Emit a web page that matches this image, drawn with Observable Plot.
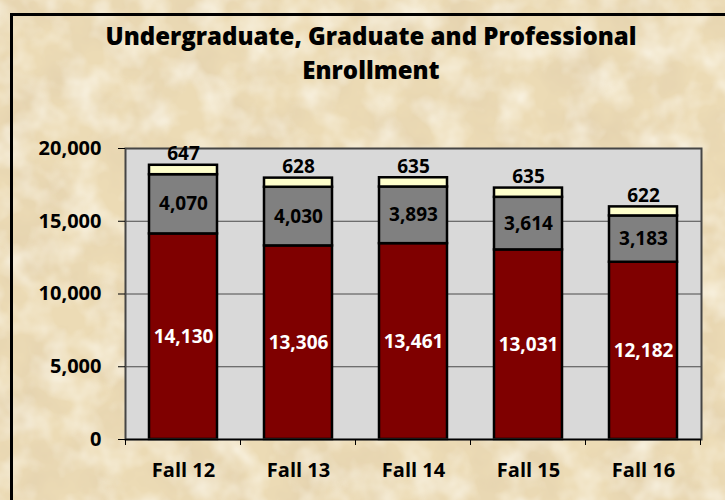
<!DOCTYPE html>
<html>
<head>
<meta charset="utf-8">
<script src="https://cdn.jsdelivr.net/npm/d3@7"></script>
<script src="https://cdn.jsdelivr.net/npm/@observablehq/plot@0.6"></script>
<style>
  html, body { margin: 0; padding: 0; }
  #wrap {
    position: relative; width: 725px; height: 500px; overflow: hidden;
    font-family: "Open Sans", Lato, sans-serif;
    background: #ecdbb5;
  }
  #texture { position: absolute; left: 0; top: 0; }
  #border {
    position: absolute; left: 10px; top: 13px; width: 900px; height: 700px;
    border: 3.5px solid #000; box-sizing: border-box;
  }
  #title {
    position: absolute; left: 40px; width: 662px; top: 19px; text-align: center;
    font-weight: 800; font-size: 24px; line-height: 34px; color: #000;
  }
  #chart { position: absolute; left: 0; top: 0; }
</style>
</head>
<body>
<div id="wrap">
  <svg id="texture" width="725" height="500">
    <filter id="blotch" x="0" y="0" width="100%" height="100%">
      <feTurbulence type="fractalNoise" baseFrequency="0.018" numOctaves="4" seed="7"/>
      <feColorMatrix values="0 0 0 0 0.76  0 0 0 0 0.63  0 0 0 0 0.42  1.6 0 0 0 -0.62"/>
    </filter>
    <filter id="light" x="0" y="0" width="100%" height="100%">
      <feTurbulence type="fractalNoise" baseFrequency="0.03" numOctaves="3" seed="21"/>
      <feColorMatrix values="0 0 0 0 0.98  0 0 0 0 0.95  0 0 0 0 0.86  1.5 0 0 0 -0.6"/>
    </filter>
    <rect width="725" height="500" filter="url(#blotch)"/>
    <rect width="725" height="500" filter="url(#light)"/>
  </svg>
  <div id="border"></div>
  <div id="chart"></div>
  <div id="title">Undergraduate, Graduate and Professional<br>Enrollment</div>
</div>
<script>
const terms = ["Fall 12", "Fall 13", "Fall 14", "Fall 15", "Fall 16"];
const undergraduate = [14130, 13306, 13461, 13031, 12182];
const graduate = [4070, 4030, 3893, 3614, 3183];
const professional = [647, 628, 635, 635, 622];
const levels = ["Undergraduate", "Graduate", "Professional"];
const levelColors = ["#7f0000", "#808080", "#ffffcc"];
const yTicks = [0, 5000, 10000, 15000, 20000];
const gridValues = [5000, 10000, 15000];

const series = [undergraduate, graduate, professional];
const rows = terms.flatMap((term, i) =>
  levels.map((level, j) => ({term, level, value: series[j][i]}))
);
const fmt = d3.format(",");
const font = "'Open Sans', Lato, sans-serif";

// boundary ticks between categories on the x axis
function boundaryTicks(index, scales, values, dims) {
  const x = scales.x;
  const step = x.step();
  const g = d3.create("svg:g").attr("stroke", "#000").attr("stroke-width", 1);
  const y0 = dims.height - dims.marginBottom;
  const xs = terms.map(t => x(t) + x.bandwidth() / 2 - step / 2);
  xs.push(x(terms[terms.length - 1]) + x.bandwidth() / 2 + step / 2);
  for (const xv of xs) {
    g.append("line").attr("x1", xv).attr("x2", xv).attr("y1", y0).attr("y2", y0 + 6);
  }
  return g.node();
}

const chart = Plot.plot({
  width: 725,
  height: 500,
  marginLeft: 125,
  marginRight: 24,
  marginTop: 148,
  marginBottom: 61,
  style: {background: "transparent", fontFamily: font, color: "#000"},
  x: {domain: terms, paddingInner: 0.41, paddingOuter: 0.205, label: null},
  y: {domain: [0, 20000], label: null},
  color: {domain: levels, range: levelColors},
  marks: [
    Plot.frame({fill: "#d9d9d9", stroke: "none"}),
    Plot.ruleY(gridValues, {stroke: "#4a4a4a", strokeWidth: 1}),
    Plot.barY(rows, {x: "term", y: "value", fill: "level", stroke: "#000", strokeWidth: 2.5}),
    Plot.frame({stroke: "#454545", strokeWidth: 2, fill: "none"}),
    Plot.ruleY([0], {stroke: "#000", strokeWidth: 1.5}),
    Plot.axisY({ticks: yTicks, tickFormat: fmt, tickSize: 7, tickPadding: 17, fontSize: 20, fontWeight: "bold", stroke: "#000"}),
    Plot.axisX({tickSize: 0, tickPadding: 23, fontSize: 20, fontWeight: "bold"}),
    boundaryTicks,
    Plot.text(rows, Plot.stackY({x: "term", y: "value",
      text: d => d.level === "Undergraduate" ? fmt(d.value) : "",
      fill: "white", fontSize: 19, fontWeight: "bold"})),
    Plot.text(rows, Plot.stackY({x: "term", y: "value",
      text: d => d.level === "Graduate" ? fmt(d.value) : "",
      fill: "#000", fontSize: 19, fontWeight: "bold"})),
    Plot.text(rows, Plot.stackY2({x: "term", y: "value",
      text: d => d.level === "Professional" ? fmt(d.value) : "",
      fill: "#000", fontSize: 19, fontWeight: "bold", dy: -11}))
  ]
});
document.getElementById("chart").appendChild(chart);
</script>
</body>
</html>
